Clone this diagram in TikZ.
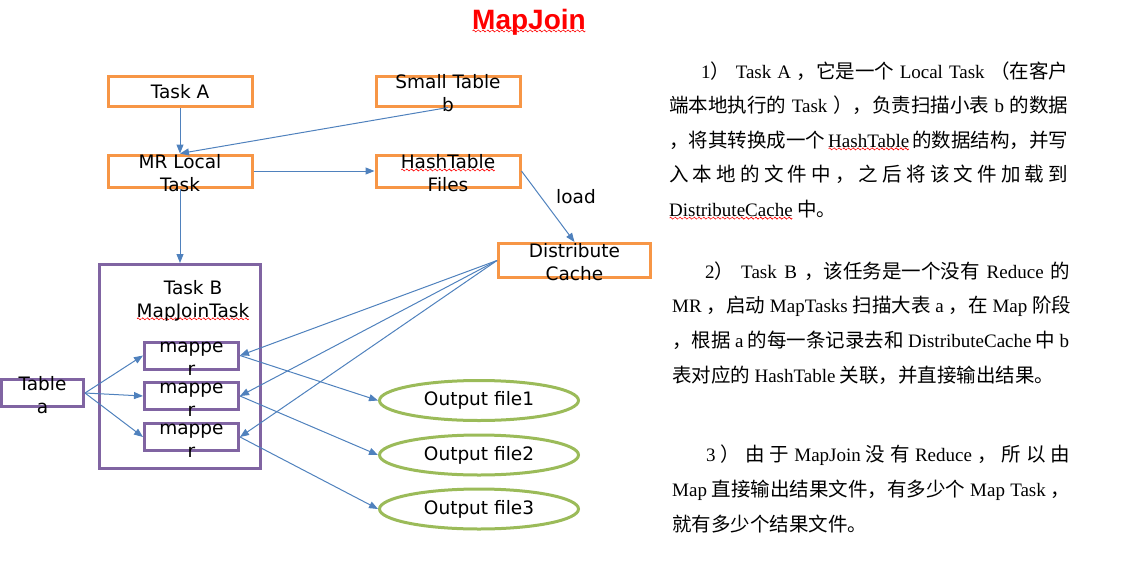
\documentclass[tikz,border=0pt]{standalone}
\usepackage{fontspec}
\setmainfont{DejaVu Sans}
\newfontfamily\cjkfont{Noto Sans CJK SC}
\newfontfamily\latfont{Liberation Serif}
\newfontfamily\titlefont{Liberation Sans}
\usetikzlibrary{arrows.meta, positioning, calc, shapes.geometric}
\definecolor{boxorange}{HTML}{F79646}
\definecolor{boxpurple}{HTML}{8064A2}
\definecolor{filegreen}{HTML}{9BBB59}
\definecolor{linkblue}{HTML}{4F81BD}

\newcommand\lat[1]{{\latfont\fontsize{19}{23}\selectfont #1}}
\newcommand\twoline[2]{\smash{\raisebox{-8.5pt}{\begin{tabular}{@{}c@{}}#1\\#2\end{tabular}}}}
% red wavy underline
\newsavebox\wavebox
\newlength\spellwd
\newcommand\spell[1]{\settowidth\spellwd{#1}\rlap{\smash{\raisebox{-3pt}{\hbox to\spellwd{\xleaders\copy\wavebox\hfil}}}}#1}

\begin{document}
\sbox\wavebox{\begin{pgfpicture}
    \pgfpathmoveto{\pgfpoint{0pt}{0pt}}
    \pgfpathsine{\pgfpoint{1pt}{1pt}}\pgfpathcosine{\pgfpoint{1pt}{-1pt}}
    \pgfpathsine{\pgfpoint{1pt}{-1pt}}\pgfpathcosine{\pgfpoint{1pt}{1pt}}
    \pgfsetcolor{red}\pgfsetlinewidth{0.6pt}\pgfusepath{stroke}
\end{pgfpicture}}
\begin{tikzpicture}[x=1pt, y=-1pt,
    every node/.style={font=\fontsize{18.5}{23}\selectfont},
    obox/.style={draw=boxorange, line width=3pt, minimum width=144pt, minimum height=30pt, inner sep=0pt},
    pbox/.style={draw=boxpurple, line width=3pt, inner sep=0pt},
    mbox/.style={pbox, minimum width=94pt, minimum height=27pt},
    outfile/.style={ellipse, draw=filegreen, line width=3pt, minimum width=199pt, minimum height=40pt, inner sep=0pt},
    link/.style={draw=linkblue, line width=1pt, -{Triangle[length=9pt, width=7pt]}},
    txt/.style={anchor=west, inner sep=0pt, font=\fontsize{19.5}{23}\selectfont\cjkfont}]
    \useasboundingbox (0,0) rectangle (1127,563);

    % title
    \node[font=\fontsize{28}{32}\selectfont\titlefont\bfseries, text=red] (title) at (529,22) {\spell{MapJoin}};

    % local task
    \node[obox] (taska) at (180,91.5) {Task A};
    \node[obox] (smallb) at (448,91) {\twoline{Small Table}{b}};
    \node[obox, minimum height=32pt] (mrlocal) at (180,171) {\twoline{MR Local}{Task}};
    \node[obox, minimum height=32pt] (hashfiles) at (448,171) {\twoline{\spell{HashTable}}{Files}};
    \node[obox, minimum width=152pt, minimum height=34pt] (dcache) at (574.5,260.5) {\twoline{Distribute}{Cache}};
    \node (load) at (576,197) {load};

    % map join task
    \node[pbox, minimum width=161pt, minimum height=204pt] (taskb) at (180,366.5) {};
    \node[align=center, inner sep=0pt] (taskbname) at (193,300.5) {Task B\\\spell{MapJoinTask}};
    \node[mbox] (mapa) at (191.5,355.5) {\twoline{mappe}{r}};
    \node[mbox] (mapb) at (191.5,396) {\twoline{mappe}{r}};
    \node[mbox] (mapc) at (191.5,437) {\twoline{mappe}{r}};
    \node[pbox, minimum width=82pt, minimum height=27pt] (tablea) at (42.5,393) {\twoline{Table}{a}};

    \node[outfile] (outa) at (479,400.5) {Output file1};
    \node[outfile] (outb) at (479,455) {Output file2};
    \node[outfile] (outc) at (479,509) {Output file3};

    % links
    \draw[link] (taska.south) -- (mrlocal.north);
    \draw[link] (smallb.south) -- (mrlocal.north);
    \draw[link] (mrlocal.east) -- (hashfiles.west);
    \draw[link] (hashfiles.east) -- (dcache.north);
    \draw[link] (mrlocal.south) -- (taskb.north);
    \foreach \m in {mapa, mapb, mapc} {
        \draw[link] (tablea.east) -- (\m.west);
        \draw[link] (dcache.west) -- (\m.east);
    }
    \draw[link] (mapa.east) -- (outa.west);
    \draw[link] (mapb.east) -- (outb.west);
    \draw[link] (mapc.east) -- (outc.west);

    % notes
    \node[txt] (pa1) at (701,71) {\makebox[367pt][s]{\lat{1}） \lat{Task A} ，它是一个 \lat{Local Task} （在客户}};
    \node[txt] (pa2) at (669,105) {\makebox[399pt][s]{端本地执行的 \lat{Task} ），负责扫描小表 \lat{b} 的数据}};
    \node[txt] (pa3) at (669,140) {\makebox[399pt][s]{，将其转换成一个 \lat{\spell{HashTable}} 的数据结构，并写}};
    \node[txt] (pa4) at (669,174) {\makebox[399pt][s]{入 本 地 的 文 件 中 ， 之 后 将 该 文 件 加 载 到}};
    \node[txt] (pa5) at (669,209) {\lat{\spell{DistributeCache}} 中。};

    \node[txt] (pb1) at (705,271) {\makebox[365pt][s]{\lat{2}） \lat{Task B} ，该任务是一个没有 \lat{Reduce} 的}};
    \node[txt] (pb2) at (672,306) {\makebox[399pt][s]{\lat{MR} ，启动 \lat{MapTasks} 扫描大表 \lat{a} ，在 \lat{Map} 阶段}};
    \node[txt] (pb3) at (672,340) {\makebox[397pt][s]{，根据 \lat{a} 的每一条记录去和 \lat{DistributeCache} 中 \lat{b}}};
    \node[txt] (pb4) at (672,375) {表对应的 \lat{HashTable} 关联，并直接输出结果。};

    \node[txt] (pc1) at (706,455) {\makebox[364pt][s]{\lat{3} ） 由 于 \lat{MapJoin} 没 有 \lat{Reduce} ， 所 以 由}};
    \node[txt] (pc2) at (672,490) {\makebox[398pt][s]{\lat{Map} 直接输出结果文件，有多少个 \lat{Map Task} ，}};
    \node[txt] (pc3) at (672,524) {就有多少个结果文件。};
\end{tikzpicture}
\end{document}
